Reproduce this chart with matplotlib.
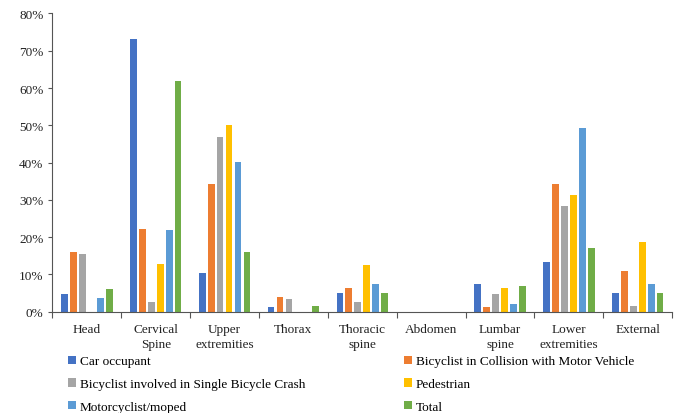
import matplotlib.pyplot as plt
import numpy as np
from matplotlib.ticker import FuncFormatter

plt.rcParams["font.family"] = ["Liberation Serif", "DejaVu Serif"]

categories = ["Head", "Cervical\nSpine", "Upper\nextremities", "Thorax", "Thoracic\nspine",
              "Abdomen", "Lumbar\nspine", "Lower\nextremities", "External"]
series_names = ["Car occupant", "Bicyclist in Collision with Motor Vehicle",
                "Bicyclist involved in Single Bicycle Crash", "Pedestrian",
                "Motorcyclist/moped", "Total"]
car = [4.6, 73.1, 10.3, 1.2, 4.9, 0, 7.4, 13.3, 4.9]
bike_motor = [16.0, 22.1, 34.3, 3.8, 6.2, 0, 1.2, 34.3, 11.0]
bike_single = [15.4, 2.7, 46.9, 3.4, 2.7, 0, 4.7, 28.2, 1.4]
pedestrian = [0, 12.7, 50.2, 0, 12.6, 0, 6.4, 31.3, 18.7]
moto = [3.6, 22.0, 40.2, 0, 7.3, 0, 2.0, 49.3, 7.4]
total = [6.0, 61.8, 16.1, 1.5, 4.9, 0, 6.8, 17.1, 5.1]
colors = ["#4472C4", "#ED7D31", "#A5A5A5", "#FFC000", "#5B9BD5", "#70AD47"]

data = [car, bike_motor, bike_single, pedestrian, moto, total]

fig = plt.figure(figsize=(6.81, 4.14), dpi=100)
ax = fig.add_axes([0.077, 0.245, 0.91, 0.72])

x = np.arange(len(categories))
pitch = 0.13
width = 0.098
handles = []
for i, (vals, col) in enumerate(zip(data, colors)):
    h = ax.bar(x + (i - 2.5) * pitch, vals, width=width, color=col, label=series_names[i])
    handles.append(h)

ax.set_xlim(-0.5, len(categories) - 0.5)
ax.set_ylim(0, 80)
ax.set_yticks(np.arange(0, 81, 10))
ax.yaxis.set_major_formatter(FuncFormatter(lambda v, p: f"{int(v)}%"))
ax.set_xticks(np.arange(len(categories) + 1) - 0.5, minor=False)
ax.set_xticklabels([])
ax.set_xticks(x, minor=True)
ax.set_xticklabels(categories, minor=True, fontsize=9.5, color="#222222", linespacing=1.35)
ax.tick_params(axis="x", which="minor", length=0, pad=8)
ax.tick_params(axis="x", which="major", length=4, direction="out", color="#555555")
ax.tick_params(axis="y", length=3, labelsize=9.5, color="#555555", labelcolor="#222222")
for s in ["top", "right"]:
    ax.spines[s].set_visible(False)
for s in ["left", "bottom"]:
    ax.spines[s].set_color("#555555")

# legend fills column by column, so reorder to read row by row
order = [0, 2, 4, 1, 3, 5]
fig.legend(handles=[handles[i] for i in order], labels=[series_names[i] for i in order],
           loc="upper left", bbox_to_anchor=(0.09, 0.155), ncol=2, frameon=False,
           fontsize=9.5, handlelength=0.6, handleheight=0.6, handletextpad=0.3,
           columnspacing=7.5, labelspacing=0.8, borderpad=0)

fig.savefig("out.png", dpi=100)
